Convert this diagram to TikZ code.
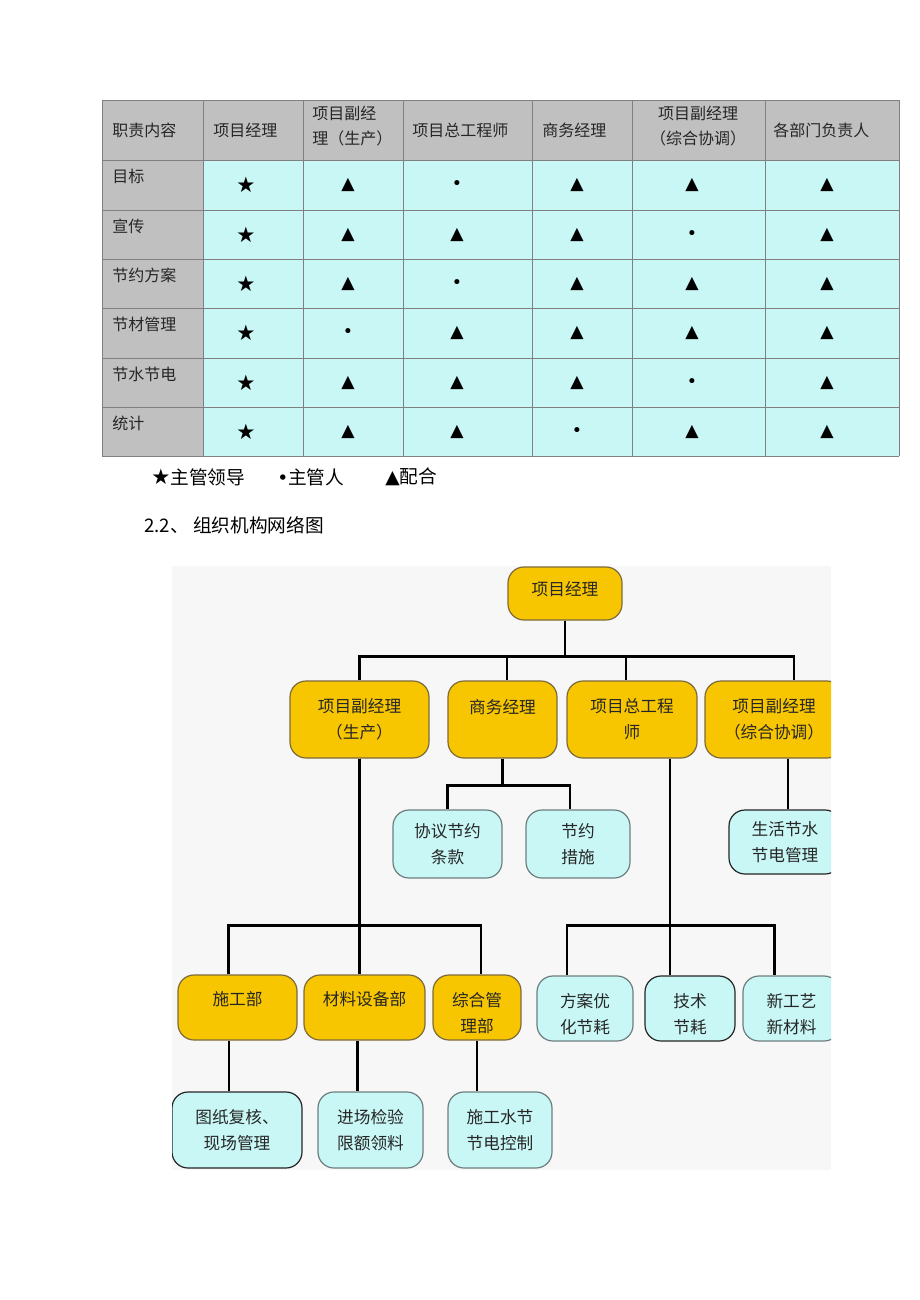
\documentclass[tikz,border=0pt]{standalone}
\usepackage{fontspec}
\setmainfont{Noto Sans CJK SC}
\newfontfamily\symfont{DejaVu Sans}

\definecolor{headgray}{HTML}{C0C0C0}
\definecolor{cellcyan}{HTML}{C8F7F5}
\definecolor{gridgray}{HTML}{808080}
\definecolor{chartbg}{HTML}{F7F7F7}
\definecolor{goldbox}{HTML}{F7C600}
\definecolor{goldedge}{HTML}{7D6B3A}
\definecolor{iceblue}{HTML}{C9F7F6}
\definecolor{iceedge}{HTML}{6E7E7E}
\definecolor{inktext}{HTML}{262626}

\newcommand{\starmark}{{\fontsize{16}{16}\selectfont ★}}

\tikzset{
  wire/.style={line width=2pt, black},
  boxsize/.style 2 args={minimum width=#1*0.75pt, minimum height=#2*0.75pt},
  boxbase/.style={rounded corners=12pt, inner sep=0pt, align=center,
    font=\fontsize{12.5}{19.5}\selectfont, text=inktext, line width=0.9pt},
  gold/.style={boxbase, fill=goldbox, draw=goldedge},
  ice/.style={boxbase, fill=iceblue, draw=iceedge},
  icedark/.style={ice, draw=black!85},
  headtext/.style={font=\fontsize{12}{18.75}\selectfont, inner sep=0pt, text=inktext},
  rowlabel/.style={font=\fontsize{12}{15}\selectfont, inner sep=0pt, text=inktext},
  symcell/.style={font=\symfont\fontsize{13}{15}\selectfont, inner sep=0pt},
  legendtext/.style={font=\fontsize{14}{16}\selectfont, inner sep=0pt}
}

\begin{document}
\begin{tikzpicture}[x=0.75pt,y=-0.75pt]
\useasboundingbox (0,0) rectangle (920,1300);

% duty table
\fill[headgray] (102,100) rectangle (899,160);
\fill[headgray] (102,160) rectangle (203,456);
\fill[cellcyan] (203,160) rectangle (899,456);
\foreach \x in {102,203,303,403,532,632,765,899}
  \draw[gridgray] (\x,100) -- (\x,456);
\foreach \y in {100,160,210,259,308,358,407,456}
  \draw[gridgray] (102,\y) -- (899,\y);

\node[headtext, anchor=west] (hduty) at (112,130) {职责内容};
\node[headtext, anchor=west] (hpm) at (213,130) {项目经理};
\node[headtext, anchor=west, align=left] (hprod) at (312,126) {项目副经\\理（生产）};
\node[headtext, anchor=west] (hchief) at (412,130) {项目总工程师};
\node[headtext, anchor=west] (hbiz) at (542,130) {商务经理};
\node[headtext, align=center] (hcoord) at (698,126) {项目副经理\\（综合协调）};
\node[headtext, anchor=west] (hdept) at (773,130) {各部门负责人};

\foreach \rowy/\lab/\marks [count=\r] in {
    160/目标/{\starmark,▲,•,▲,▲,▲},
    210/宣传/{\starmark,▲,▲,▲,•,▲},
    259/节约方案/{\starmark,▲,•,▲,▲,▲},
    308/节材管理/{\starmark,•,▲,▲,▲,▲},
    358/节水节电/{\starmark,▲,▲,▲,•,▲},
    407/统计/{\starmark,▲,▲,•,▲,▲}} {
  \node[rowlabel, anchor=base west] (row\r) at (112,\rowy+22) {\lab};
  \foreach \m [count=\c] in \marks {
    \pgfmathsetmacro\cx{{246,348,457,577,692,827}[\c-1]}
    \node[symcell] (sym\r\c) at (\cx,\rowy+25) {\m};
  }
}

% legend and heading
\node[legendtext, anchor=west] (leglead) at (151,477) {{\symfont\fontsize{16}{16}\selectfont ★}主管领导};
\node[legendtext, anchor=west] (legowner) at (277,477) {{\symfont •}主管人};
\node[legendtext, anchor=west] (legcoop) at (385,477) {{\symfont ▲}配合};
\node[legendtext, anchor=west] (heading) at (144,525) {2.2、 组织机构网络图};

% organisation chart
\begin{scope}
\clip (172,566) rectangle (831,1170);
\fill[chartbg] (172,566) rectangle (831,1170);

\node[gold, boxsize={114}{53}] (pm) at (565,593.5) {项目经理\\[-12.5pt]\mbox{}};

\node[gold, boxsize={139}{77}] (vpprod) at (359.5,719.5) {项目副经理\\（生产）};
\node[gold, boxsize={109}{77}] (biz) at (502.5,719.5) {商务经理\\ \mbox{}};
\node[gold, boxsize={130}{77}] (chief) at (632,719.5) {项目总工程\\师};
\node[gold, boxsize={138}{77}] (vpcoord) at (774,719.5) {项目副经理\\（综合协调）};

\node[ice, boxsize={109}{68}] (clause) at (447.5,844) {协议节约\\条款};
\node[ice, boxsize={104}{68}] (measure) at (578,844) {节约\\措施};
\node[icedark, boxsize={112}{64}] (living) at (785,842) {生活节水\\节电管理};

\node[gold, boxsize={119}{65}] (site) at (237.5,1007.5) {施工部\\[-6pt]\mbox{}};
\node[gold, boxsize={121}{65}] (material) at (364.5,1007.5) {材料设备部\\[-6pt]\mbox{}};
\node[gold, boxsize={88}{65}] (admin) at (477,1007.5) {\mbox{}\\[-1pt]综合管\\理部};

\node[ice, boxsize={96}{65}] (plan) at (585,1008.5) {\mbox{}\\[-1pt]方案优\\化节耗};
\node[icedark, boxsize={90}{65}] (tech) at (690,1008.5) {\mbox{}\\[-1pt]技术\\节耗};
\node[ice, boxsize={97}{65}] (newmat) at (791.5,1008.5) {\mbox{}\\[-1pt]新工艺\\新材料};

\node[icedark, boxsize={130}{76}] (drawing) at (237,1130) {图纸复核、\\现场管理};
\node[ice, boxsize={105}{76}] (inspect) at (370.5,1130) {进场检验\\限额领料};
\node[ice, boxsize={104}{76}] (water) at (500,1130) {施工水节\\节电控制};

% top level
\draw[wire] (pm.south) -- ++(0,36) -| (vpprod.north);
\draw[wire] (pm.south) -- ++(0,36) -| ([xshift=3.4pt]biz.north);
\draw[wire] (pm.south) -- ++(0,36) -| ([xshift=-4.5pt]chief.north);
\draw[wire] (pm.south) -- ++(0,36) -| ([xshift=15pt]vpcoord.north);

% business manager
\draw[wire] (biz.south) -- ++(0,27) -| (clause.north);
\draw[wire] (biz.south) -- ++(0,27) -| ([xshift=-6pt]measure.north);

% coordination
\draw[wire] ([xshift=10.5pt]vpcoord.south) -- ([xshift=10.5pt]vpcoord.south |- living.north);

% chief engineer
\draw[wire] ([xshift=28.5pt]chief.south) -- ++(0,167) -| ([xshift=-13.5pt]plan.north);
\draw[wire] ([xshift=28.5pt]chief.south) -- ++(0,167) -| ([xshift=-15pt]tech.north);
\draw[wire] ([xshift=28.5pt]chief.south) -- ++(0,167) -| ([xshift=-13pt]newmat.north);

% production
\draw[wire] (vpprod.south) -- ++(0,167) -| ([xshift=-7pt]site.north);
\draw[wire] (vpprod.south) -- ++(0,167) -| ([xshift=-4pt]material.north);
\draw[wire] (vpprod.south) -- ++(0,167) -| ([xshift=3pt]admin.north);

\draw[wire] ([xshift=-6.5pt]site.south) -- ([xshift=-6.5pt]site.south |- drawing.north);
\draw[wire] ([xshift=-5.5pt]material.south) -- ([xshift=-5.5pt]material.south |- inspect.north);
\draw[wire] (admin.south) -- (admin.south |- water.north);
\end{scope}
\end{tikzpicture}
\end{document}
